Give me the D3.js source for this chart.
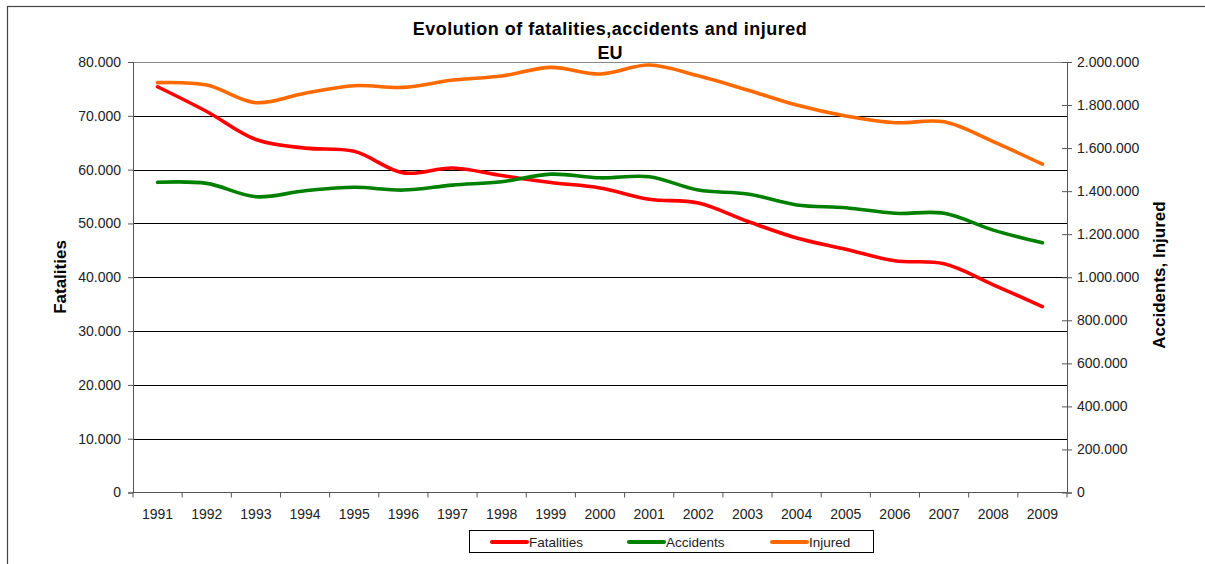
<!DOCTYPE html>
<html>
<head>
<meta charset="utf-8">
<script src="https://cdn.jsdelivr.net/npm/d3@7"></script>
<style>
    body { margin: 0; background: #fff; }
    svg text { font-family: Arial, "Liberation Sans", sans-serif; }
</style>
</head>
<body>
<div id="chart"></div>
<script>
// Data
var years = ['1991','1992','1993','1994','1995','1996','1997','1998','1999','2000',
             '2001','2002','2003','2004','2005','2006','2007','2008','2009'];
var fatalities = [75400, 70800, 65600, 64000, 63400, 59400, 60300, 58900, 57600, 56600,
                  54500, 53800, 50400, 47300, 45200, 43050, 42500, 38600, 34560];
var accidents  = [1441000, 1436000, 1374000, 1402000, 1418000, 1405000, 1428000, 1444000, 1479000, 1462000,
                  1467000, 1405000, 1387000, 1336000, 1323000, 1297000, 1297000, 1219000, 1160000];
var injured    = [1904000, 1893000, 1811000, 1855000, 1890000, 1882000, 1916000, 1935000, 1975000, 1944000,
                  1986000, 1936000, 1870000, 1800000, 1749000, 1718000, 1722000, 1630000, 1525000];
var leftTicks  = [0, 10000, 20000, 30000, 40000, 50000, 60000, 70000, 80000];
var rightTicks = [0, 200000, 400000, 600000, 800000, 1000000, 1200000, 1400000, 1600000, 1800000, 2000000];
var legendNames = ['Fatalities', 'Accidents', 'Injured'];

var width = 1205, height = 564;
var plot = { left: 133, right: 1067, top: 62, bottom: 492.5 };
var tickFont = 14;

var loc = d3.formatLocale({ decimal: ',', thousands: '.', grouping: [3], currency: ['', ''] });
var fmt = loc.format(',d');

var svg = d3.select('#chart').append('svg')
    .attr('width', width)
    .attr('height', height);

// outer frame
svg.append('rect')
    .attr('x', 7.5).attr('y', 6.5)
    .attr('width', 1210).attr('height', 600)
    .attr('fill', 'none')
    .attr('stroke', '#444')
    .attr('stroke-width', 1.2);

var x = d3.scaleBand().domain(years).range([plot.left, plot.right]).padding(0);
var yL = d3.scaleLinear().domain([0, 80000]).range([plot.bottom, plot.top]);
var yR = d3.scaleLinear().domain([0, 2000000]).range([plot.bottom, plot.top]);
function cx(d) { return x(d) + x.bandwidth() / 2; }

// gridlines on left ticks
svg.append('g').selectAll('line')
    .data(leftTicks.filter(function(d) { return d > 0; }))
    .enter().append('line')
        .attr('x1', plot.left).attr('x2', plot.right)
        .attr('y1', function(d) { return Math.round(yL(d)) + 0.5; })
        .attr('y2', function(d) { return Math.round(yL(d)) + 0.5; })
        .attr('stroke', function(d) { return d === 80000 ? '#888' : '#000'; })
        .attr('stroke-width', 1);

// left axis
var axL = svg.append('g')
    .attr('transform', 'translate(' + plot.left + ',0)')
    .call(d3.axisLeft(yL).tickValues(leftTicks).tickFormat(fmt).tickSize(5).tickPadding(7));
axL.selectAll('text').attr('font-size', tickFont).attr('fill', '#222').style('font-family', 'Arial, "Liberation Sans", sans-serif');
axL.selectAll('line, path').attr('stroke', '#555');

// right axis, cross ticks
var axR = svg.append('g')
    .attr('transform', 'translate(' + plot.right + ',0)')
    .call(d3.axisRight(yR).tickValues(rightTicks).tickFormat(fmt).tickSize(5).tickPadding(5));
axR.selectAll('.tick line').attr('x1', -5);
axR.selectAll('text').attr('font-size', tickFont).attr('fill', '#222').style('font-family', 'Arial, "Liberation Sans", sans-serif');
axR.selectAll('line, path').attr('stroke', '#555');

// bottom axis: ticks at category boundaries, labels centred
var axB = svg.append('g')
    .attr('transform', 'translate(0,' + plot.bottom + ')');
axB.append('line')
    .attr('x1', plot.left).attr('x2', plot.right)
    .attr('y1', 0).attr('y2', 0)
    .attr('stroke', '#555');
axB.selectAll('line.tk')
    .data(years.concat(['end']))
    .enter().append('line')
        .attr('class', 'tk')
        .attr('x1', function(d) { return d === 'end' ? plot.right : x(d); })
        .attr('x2', function(d) { return d === 'end' ? plot.right : x(d); })
        .attr('y1', 0).attr('y2', 5)
        .attr('stroke', '#555');
axB.selectAll('text')
    .data(years)
    .enter().append('text')
        .attr('x', cx)
        .attr('y', 26.5)
        .attr('text-anchor', 'middle')
        .attr('font-size', tickFont)
        .attr('fill', '#222')
        .text(function(d) { return d; });

// series
var series = [
    { name: 'Fatalities', values: fatalities, scale: yL, color: '#ff0000' },
    { name: 'Accidents',  values: accidents,  scale: yR, color: '#008000' },
    { name: 'Injured',    values: injured,    scale: yR, color: '#ff6a00' }
];

series.forEach(function(s) {
    var line = d3.line()
        .x(function(d, i) { return cx(years[i]); })
        .y(function(d) { return s.scale(d); })
        .curve(d3.curveCatmullRom.alpha(0.5));
    svg.append('path')
        .datum(s.values)
        .attr('d', line)
        .attr('fill', 'none')
        .attr('stroke', s.color)
        .attr('stroke-width', 3.6)
        .attr('stroke-linecap', 'round')
        .attr('stroke-linejoin', 'round');
});

// titles
svg.append('text')
    .attr('x', 610).attr('y', 35)
    .attr('text-anchor', 'middle')
    .attr('font-size', 18).attr('font-weight', 'bold')
    .attr('letter-spacing', 0.5)
    .text('Evolution of fatalities,accidents and injured');
svg.append('text')
    .attr('x', 610).attr('y', 58.5)
    .attr('text-anchor', 'middle')
    .attr('font-size', 18).attr('font-weight', 'bold')
    .text('EU');

svg.append('text')
    .attr('transform', 'translate(66,' + 277 + ') rotate(-90)')
    .attr('text-anchor', 'middle')
    .attr('font-size', 17).attr('font-weight', 'bold')
    .text('Fatalities');
svg.append('text')
    .attr('transform', 'translate(1165,' + 275 + ') rotate(-90)')
    .attr('text-anchor', 'middle')
    .attr('font-size', 17).attr('font-weight', 'bold')
    .text('Accidents, Injured');

// legend
var legend = svg.append('g');
legend.append('rect')
    .attr('x', 469.5).attr('y', 530.5)
    .attr('width', 404).attr('height', 22)
    .attr('fill', '#fff')
    .attr('stroke', '#000');
var legendX = [492, 629, 772];
var item = legend.selectAll('g.item')
    .data(series)
    .enter().append('g')
        .attr('class', 'item')
        .attr('transform', function(d, i) { return 'translate(' + legendX[i] + ',542)'; });
item.append('line')
    .attr('x1', 0).attr('x2', 35)
    .attr('stroke', function(d) { return d.color; })
    .attr('stroke-width', 4)
    .attr('stroke-linecap', 'round');
item.append('text')
    .attr('x', 37).attr('y', 5)
    .attr('font-size', 13.5)
    .attr('fill', '#222')
    .text(function(d, i) { return legendNames[i]; });
</script>
</body>
</html>
